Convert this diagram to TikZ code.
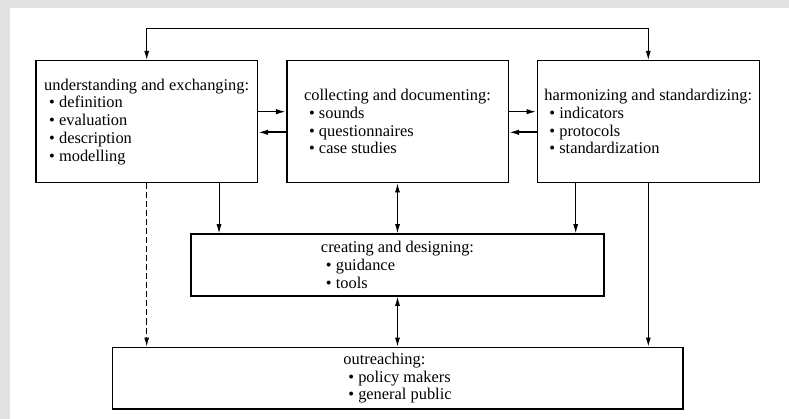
\documentclass[tikz,border=0pt]{standalone}
\usepackage{fontspec}
\setmainfont{Liberation Serif}
\usetikzlibrary{arrows.meta}
\definecolor{framegray}{RGB}{225,225,225}
\begin{document}
\begin{tikzpicture}[x=1pt,y=-1pt,
  box/.style={draw,line width=1.6pt,rectangle,inner sep=0pt,align=left,
    font=\fontsize{16.4}{17.7}\selectfont},
  link/.style={line width=0.9pt,-{Latex[length=9pt,width=5pt]}},
  duplex/.style={line width=0.9pt,{Latex[length=9pt,width=5pt]}-{Latex[length=9pt,width=5pt]}},
  side/.style={line width=1.6pt,-{Latex[length=10pt,width=5.5pt]}},
]
\newcommand{\itm}[1]{\hspace*{5pt}\textbullet\ #1}
% page and frame
\useasboundingbox (0,0) rectangle (789,419);
\fill[framegray] (0,0) rectangle (789,8);
\fill[framegray] (0,0) rectangle (10,419);

% boxes
\node[box,minimum width=221.3pt,minimum height=122pt] (und) at (146.7,121.7)
  {understanding and exchanging:\\ \itm{definition}\\ \itm{evaluation}\\ \itm{description}\\ \itm{modelling}};
\node[box,minimum width=221.6pt,minimum height=122pt] (col) at (397.5,121.7)
  {collecting and documenting:\\ \itm{sounds}\\ \itm{questionnaires}\\ \itm{case studies}};
\node[box,minimum width=222pt,minimum height=122pt] (har) at (648.3,121.7)
  {harmonizing and standardizing:\\ \itm{indicators}\\ \itm{protocols}\\ \itm{standardization}};
\node[box,minimum width=413pt,minimum height=62pt] (cre) at (397.5,265)
  {creating and designing:\\ \itm{guidance}\\ \itm{tools}};
\node[box,minimum width=570.4pt,minimum height=61.7pt] (out) at (397.5,378.2)
  {outreaching:\\ \itm{policy makers}\\ \itm{general public}};

% helper coordinates for routing
\coordinate (top) at (0,28);
\coordinate (ux) at (219,0);
\coordinate (hx) at (575.7,0);

% feedback loop over the top
\draw[duplex] (und.north) -- (und.north |- top) -- (har.north |- top) -- (har.north);

% horizontal exchanges
\draw[side] ([yshift=10pt]und.east) -- ([yshift=10pt]col.west);
\draw[side] ([yshift=-10.6pt]col.west) -- ([yshift=-10.6pt]und.east);
\draw[side] ([yshift=10pt]col.east) -- ([yshift=10pt]har.west);
\draw[side] ([yshift=-10.6pt]har.west) -- ([yshift=-10.6pt]col.east);

% downward links
\draw[link] (und.south -| ux) -- (cre.north -| ux);
\draw[link] (har.south -| hx) -- (cre.north -| hx);
\draw[duplex] (col.south) -- (cre.north);
\draw[duplex] (cre.south) -- (out.north);
\draw[link,dash pattern=on 6pt off 3pt] (und.south) -- (und.south |- out.north);
\draw[link] (har.south) -- (har.south |- out.north);
\end{tikzpicture}
\end{document}
